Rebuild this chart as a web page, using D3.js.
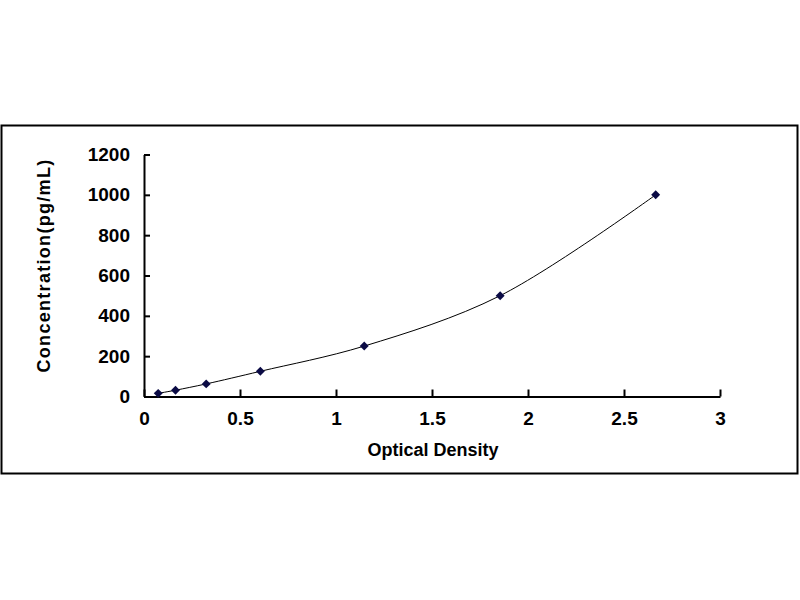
<!DOCTYPE html>
<html>
<head>
<meta charset="utf-8">
<script src="https://cdn.jsdelivr.net/npm/d3@7"></script>
<style>
  body { margin: 0; background: #fff; }
  text { font-family: "Liberation Sans", Arial, sans-serif; font-weight: bold; fill: #000; }
</style>
</head>
<body>
<div class="grafico"></div>
<script>
const width = 800;
const height = 600;

// standard curve readings
const opticalDensity = [0.074, 0.164, 0.324, 0.606, 1.147, 1.855, 2.665];
const concentration = [15.6, 31.2, 62.5, 125, 250, 500, 1000];

const xTicks = [0, 0.5, 1, 1.5, 2, 2.5, 3];
const yTicks = [0, 200, 400, 600, 800, 1000, 1200];

const points = opticalDensity.map((d, i) => ({ x: d, y: concentration[i] }));

const svg = d3.select(".grafico")
    .append("svg")
    .attr("width", width)
    .attr("height", height);

// chart frame
svg.append("rect")
    .attr("x", 1.5)
    .attr("y", 125.5)
    .attr("width", 796)
    .attr("height", 348)
    .attr("fill", "none")
    .attr("stroke", "#000")
    .attr("stroke-width", 2);

const x = d3.scaleLinear()
    .domain([0, 3])
    .range([144, 720]);

const y = d3.scaleLinear()
    .domain([0, 1200])
    .range([396.5, 154.5]);

const xAxis = svg.append("g")
    .attr("transform", `translate(0, ${y(0)})`)
    .call(d3.axisBottom(x)
        .tickValues(xTicks)
        .tickFormat(d3.format("~g"))
        .tickSize(-7)
        .tickSizeOuter(0)
        .tickPadding(15));

const yAxis = svg.append("g")
    .attr("transform", `translate(${x(0)}, 0)`)
    .call(d3.axisLeft(y)
        .tickValues(yTicks)
        .tickFormat(d3.format("d"))
        .tickSize(-6)
        .tickSizeOuter(0)
        .tickPadding(14));

[xAxis, yAxis].forEach(g => {
    g.select(".domain").attr("stroke", "#000").attr("stroke-width", 2);
    g.selectAll(".tick line").attr("stroke", "#000").attr("stroke-width", 2);
    g.selectAll(".tick text")
        .attr("fill", "#000")
        .style("font-size", "19px")
        .style("font-family", "'Liberation Sans', Arial, sans-serif")
        .style("font-weight", "bold");
});

// axis titles
svg.append("text")
    .attr("x", 433)
    .attr("y", 456)
    .attr("text-anchor", "middle")
    .style("font-size", "18px")
    .text("Optical Density");

svg.append("text")
    .attr("transform", "translate(50, 265.5) rotate(-90)")
    .attr("text-anchor", "middle")
    .style("font-size", "18px")
    .style("letter-spacing", "1.3px")
    .text("Concentration(pg/mL)");

// fitted curve
const line = d3.line()
    .x(d => x(d.x))
    .y(d => y(d.y))
    .curve(d3.curveCatmullRom.alpha(0.5));

svg.append("path")
    .datum(points)
    .attr("d", line)
    .attr("fill", "none")
    .attr("stroke", "#000")
    .attr("stroke-width", 1);

// markers
svg.selectAll(".marker")
    .data(points)
    .enter().append("path")
    .attr("class", "marker")
    .attr("d", d3.symbol(d3.symbolSquare, 40))
    .attr("transform", d => `translate(${x(d.x)}, ${y(d.y)}) rotate(45)`)
    .attr("fill", "#0b0b45");
</script>
</body>
</html>
